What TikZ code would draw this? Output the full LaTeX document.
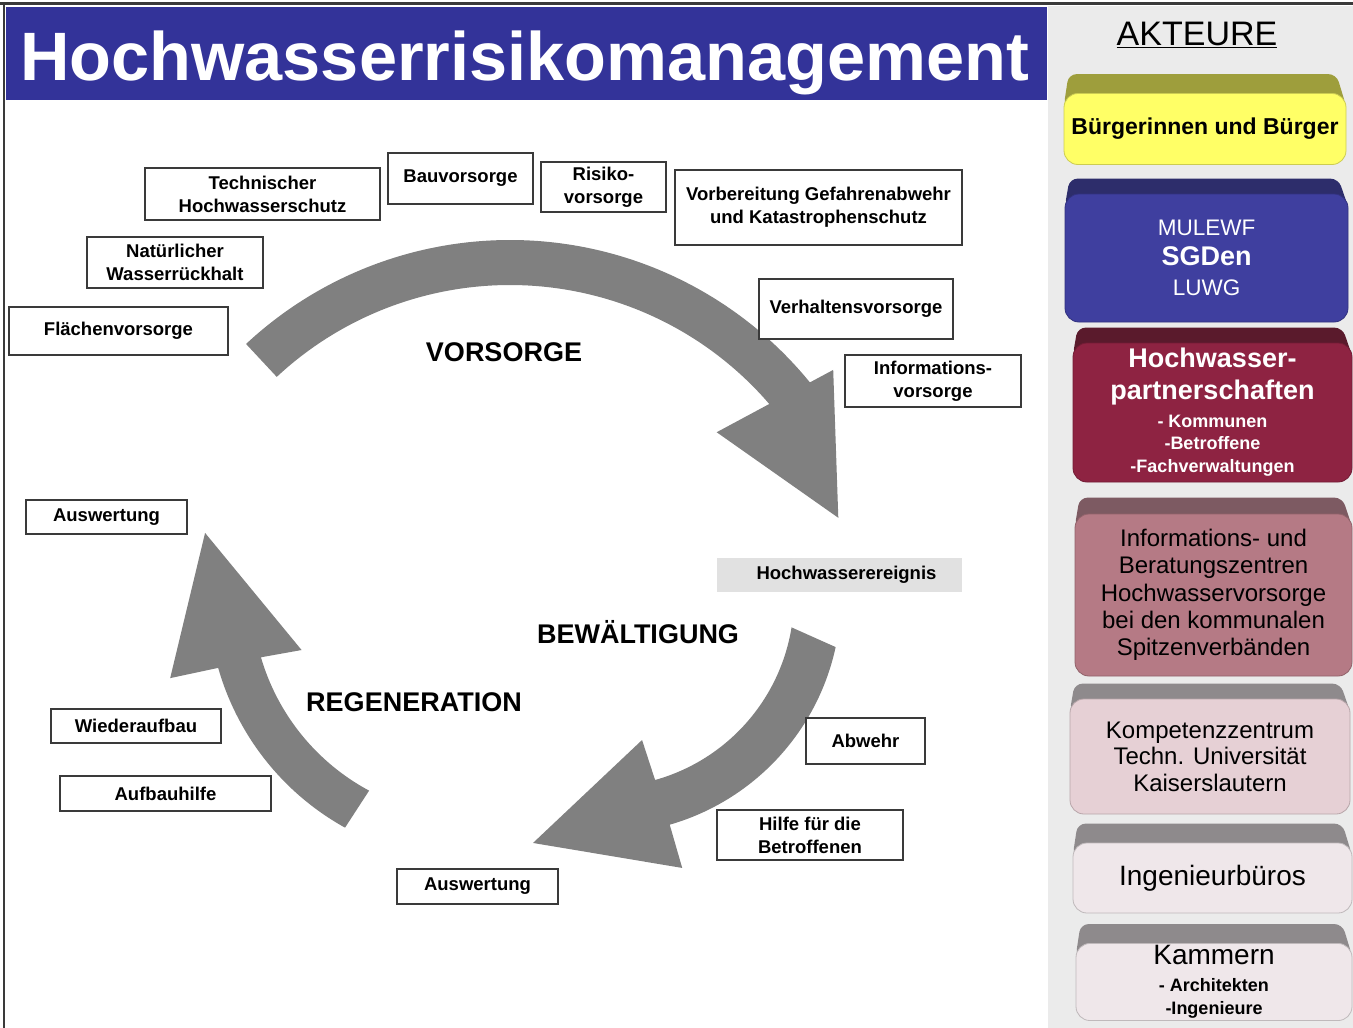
\documentclass[tikz,border=0pt]{standalone}
\usepackage{fontspec}
\setmainfont{Liberation Sans}
\usepackage{xcolor}
\definecolor{TitleBlue}{HTML}{333399}
\definecolor{Panel}{HTML}{EBEBEB}
\definecolor{Cycle}{HTML}{808080}
\definecolor{Frame}{HTML}{3A3A3A}
\definecolor{EventGray}{HTML}{E1E1E1}
\definecolor{YellowFront}{HTML}{FFFF66}
\definecolor{YellowTop}{HTML}{9E9E3C}
\definecolor{BlueFront}{HTML}{3F3F9F}
\definecolor{BlueTop}{HTML}{2D2D6B}
\definecolor{WineFront}{HTML}{8E2342}
\definecolor{WineTop}{HTML}{5A1A2C}
\definecolor{RoseFront}{HTML}{B57A85}
\definecolor{RoseTop}{HTML}{7D5A62}
\definecolor{PinkFront}{HTML}{E6D0D5}
\definecolor{PaleFront}{HTML}{EFE7EA}
\definecolor{GreyTop}{HTML}{8E8A8C}
\newcommand{\subline}{\bfseries\fontsize{18}{23}\selectfont}
\pgfdeclarelayer{back}
\pgfdeclarelayer{faces}
\pgfsetlayers{back,faces,main}
\tikzset{
 box/.style={draw=Frame, line width=1.3pt, fill=white, inner sep=2pt, align=center, font=\bfseries\fontsize{18.5}{23}\selectfont},
 eventbox/.style={box, draw=none, fill=EventGray},
 phase/.style={font=\bfseries\fontsize{27}{30}\selectfont},
 akteur/.style={rounded corners=14pt, fill=#1, draw=#1!80!black, line width=0.8pt, align=center, inner sep=2pt},
 topface/.style={rounded corners=8pt},
 cyclearrow/.style={fill=Cycle}
}
\begin{document}
\begin{tikzpicture}[x=1pt,y=-1pt]
\useasboundingbox (0,0) rectangle (1353,1028);
\begin{pgfonlayer}{back}
\fill[white] (0,0) rectangle (1353,1028);
\fill[Panel] (1048,6) rectangle (1353,1028);
\fill[TitleBlue] (6,7) rectangle (1047,100);
\draw[Frame,line width=3pt] (0,3) -- (1353,3);
\draw[Frame,line width=2pt] (4,3) -- (4,1028);
\end{pgfonlayer}
\node[anchor=base west, text=white, font=\bfseries\fontsize{68.5}{70}\selectfont, inner sep=0pt] (title) at (20,80) {Hochwasserrisikomanagement};
\node[anchor=base, font=\fontsize{34}{36}\selectfont, inner sep=0pt] (akteure) at (1197,45) {\underline{AKTEURE}};

\begin{scope}[shift={(510,627)},y=1pt]
\fill[cyclearrow] (133:387) arc[start angle=133,end angle=39.2,radius=387] -- (38.5:413) -- (18.4:346) -- (43.3:284) -- (40.7:342) arc[start angle=40.7,end angle=133,radius=342] -- cycle;
\end{scope}
\begin{scope}[shift={(604,597)},y=1pt]
\fill[cyclearrow] (-12.2:237) arc[start angle=-12.2,end angle=-73.9,radius=237] -- (-73.9:282) -- (-106.1:256) -- (-75.1:148) -- (-74.4:190) arc[start angle=-74.4,end angle=-9.2,radius=190] -- cycle;
\end{scope}
\begin{scope}[shift={(474,595)},y=1pt]
\fill[cyclearrow] (241:266) arc[start angle=241,end angle=195.9,radius=266] -- (195.3:315) -- (167:276) -- (197.7:181) -- (196.3:222) arc[start angle=196.3,end angle=241.8,radius=222] -- cycle;
\end{scope}

\node[box,minimum width=235pt,minimum height=52pt] (tech) at (262.5,194) {Technischer\\Hochwasserschutz};
\node[box,minimum width=145pt,minimum height=51pt] (bau) at (460.5,178.5) {Bauvorsorge};
\node[box,minimum width=125pt,minimum height=50pt] (risiko) at (603.5,187) {Risiko-\\vorsorge};
\node[box,minimum width=287pt,minimum height=75pt] (vorbereitung) at (818.5,207.5) {Vorbereitung Gefahrenabwehr\\und Katastrophenschutz};
\node[box,minimum width=176pt,minimum height=51pt] (natur) at (175,262.5) {Natürlicher\\Wasserrückhalt};
\node[box,minimum width=219pt,minimum height=48pt] (flaeche) at (118.5,331) {Flächenvorsorge};
\node[box,minimum width=194pt,minimum height=60pt] (verhalten) at (856,309) {Verhaltensvorsorge};
\node[box,minimum width=176pt,minimum height=52pt] (infovorsorge) at (933,381) {Informations-\\vorsorge};
\node[box,minimum width=161pt,minimum height=34pt] (auswertungA) at (106.5,517) {Auswertung};
\node[eventbox,minimum width=245pt,minimum height=34pt] (ereignis) at (839.5,575) {\hspace{14pt}Hochwasserereignis};
\node[box,minimum width=119pt,minimum height=46pt] (abwehr) at (865.5,741) {Abwehr};
\node[box,minimum width=186pt,minimum height=50pt] (hilfe) at (810,835) {Hilfe für die\\Betroffenen};
\node[box,minimum width=161pt,minimum height=35pt] (auswertungB) at (477.5,886.5) {Auswertung};
\node[box,minimum width=170pt,minimum height=34pt] (wiederaufbau) at (136,726) {Wiederaufbau};
\node[box,minimum width=211pt,minimum height=35pt] (aufbauhilfe) at (165.5,793.5) {Aufbauhilfe};

\node[phase] (vorsorge) at (504,352) {VORSORGE};
\node[phase] (bewaeltigung) at (638,632) {BEWÄLTIGUNG};
\node[phase] (regeneration) at (414,702) {REGENERATION};

\node[akteur=YellowFront,minimum width=282pt,minimum height=71pt,font=\bfseries\fontsize{23}{27}\selectfont] (buerger) at (1205,129) {Bürgerinnen und Bürger};
\node[akteur=BlueFront,minimum width=283pt,minimum height=128pt,text=white,font=\fontsize{22.5}{30}\selectfont] (ministerium) at (1206.5,258) {MULEWF\\{\bfseries\fontsize{27}{30}\selectfont SGDen}\\LUWG};
\node[akteur=WineFront,minimum width=279pt,minimum height=139pt,text=white,font=\bfseries\fontsize{27}{32}\selectfont] (partner) at (1212.5,412.5) {Hochwasser-\\partnerschaften\\[-4pt]\subline - Kommunen\\[-10pt]\subline -Betroffene\\[-9pt]\subline -Fachverwaltungen};
\node[akteur=RoseFront,minimum width=277pt,minimum height=162pt,font=\fontsize{24}{27.3}\selectfont] (zentren) at (1213.5,595) {Informations- und\\Beratungszentren\\Hochwasservorsorge\\bei den kommunalen\\Spitzenverbänden};
\node[akteur=PinkFront,minimum width=280pt,minimum height=115pt,font=\fontsize{24}{26.5}\selectfont] (kompetenz) at (1210,756.5) {Kompetenzzentrum\\Techn. Universität\\Kaiserslautern};
\node[akteur=PaleFront,minimum width=279pt,minimum height=70pt,font=\fontsize{28}{32}\selectfont] (bueros) at (1212.5,878) {Ingenieurbüros};
\node[akteur=PaleFront,minimum width=276pt,minimum height=76pt,font=\fontsize{28}{26}\selectfont] (kammern) at (1214,982) {Kammern\\[1pt]\subline - Architekten\\[-3pt]\subline -Ingenieure};

\begin{pgfonlayer}{faces}
\foreach \n/\c/\h in {buerger/YellowTop/19, ministerium/BlueTop/15, partner/WineTop/15, zentren/RoseTop/16, kompetenz/GreyTop/15, bueros/GreyTop/19, kammern/GreyTop/19}
 \fill[topface,\c] ([yshift=-14pt]\n.north west) -- ([xshift=5pt,yshift=\h pt]\n.north west) -- ([xshift=-10pt,yshift=\h pt]\n.north east) -- ([yshift=-14pt]\n.north east) -- cycle;
\end{pgfonlayer}
\end{tikzpicture}
\end{document}
